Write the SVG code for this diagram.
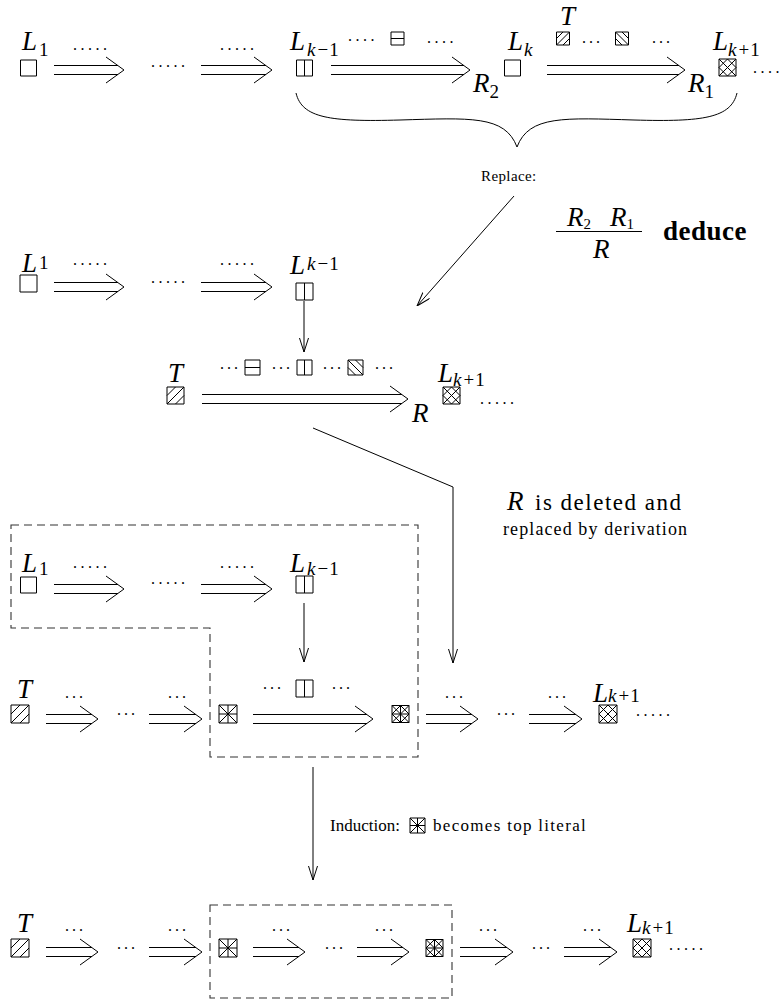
<svg xmlns="http://www.w3.org/2000/svg" xmlns:xlink="http://www.w3.org/1999/xlink" width="782" height="1005" viewBox="0 0 782 1005">
<style>
.ln{stroke:#000;stroke-width:1;fill:none}
.dash{stroke:#333;stroke-width:1.1;fill:none;stroke-dasharray:8 5}
.bx{stroke:#000;stroke-width:1;fill:#fff;vector-effect:non-scaling-stroke}
.hl{stroke:#000;stroke-width:1;fill:none;vector-effect:non-scaling-stroke}
.m{font-family:"Liberation Serif",serif;font-style:italic;font-size:27px;fill:#000}
.sb{font-size:19px}
.up{font-style:normal}
.t{font-family:"Liberation Serif","Times New Roman",serif;fill:#000}
.d{font-family:"Liberation Serif",serif;font-size:16px;letter-spacing:3.5px;fill:#000}
.c{font-family:"Liberation Serif",serif;font-size:16px;letter-spacing:3px;fill:#000}
</style>
<defs>
<symbol id="b-empty" viewBox="0 0 16 16" overflow="visible"><rect class="bx" x="0" y="0" width="16" height="16"/></symbol>
<symbol id="b-vline" viewBox="0 0 16 16" overflow="visible"><rect class="bx" x="0" y="0" width="16" height="16"/><path class="hl" d="M8,0V16"/></symbol>
<symbol id="b-hline" viewBox="0 0 16 16" overflow="visible"><rect class="bx" x="0" y="0" width="16" height="16"/><path class="hl" d="M0,8H16"/></symbol>
<symbol id="b-slash" viewBox="0 0 16 16" overflow="visible"><rect class="bx" x="0" y="0" width="16" height="16"/><path class="hl" d="M0,16L16,0M0,8L8,0M8,16L16,8"/></symbol>
<symbol id="b-bslash" viewBox="0 0 16 16" overflow="visible"><rect class="bx" x="0" y="0" width="16" height="16"/><path class="hl" d="M0,0L16,16M8,0L16,8M0,8L8,16"/></symbol>
<symbol id="b-cross" viewBox="0 0 16 16" overflow="visible"><rect class="bx" x="0" y="0" width="16" height="16"/><path class="hl" d="M0,16L16,0M0,8L8,0M8,16L16,8M0,0L16,16M8,0L16,8M0,8L8,16"/></symbol>
<symbol id="b-star" viewBox="0 0 16 16" overflow="visible"><rect class="bx" x="0" y="0" width="16" height="16"/><path class="hl" d="M0,0L16,16M16,0L0,16M8,0V16M0,8H16"/></symbol>
<symbol id="b-crossplus" viewBox="0 0 16 16" overflow="visible"><rect class="bx" x="0" y="0" width="16" height="16"/><path class="hl" d="M0,16L16,0M0,8L8,0M8,16L16,8M0,0L16,16M8,0L16,8M0,8L8,16M8,0V16M0,8H16"/></symbol>
<marker id="v" viewBox="0 0 14 10" refX="14" refY="5" markerWidth="14" markerHeight="10" markerUnits="userSpaceOnUse" orient="auto"><path d="M0,0.5L14,5L0,9.5" fill="none" stroke="#000" stroke-width="1"/></marker>
</defs>
<rect width="782" height="1005" fill="#fff"/>

<!-- Row 1 -->
<g id="r1-L1"><text class="m" x="22" y="50">L<tspan class="sb up" dx="2" dy="6">1</tspan></text><use href="#b-empty" x="20" y="60" width="17" height="16"/></g>
<g id="r1-Lk-1"><text class="m" x="290" y="50">L<tspan class="sb" dx="2" dy="6">k</tspan><tspan class="sb up" dx="2">−</tspan><tspan class="sb up" dx="1">1</tspan></text><use href="#b-vline" x="296" y="60" width="17" height="16"/></g>
<g id="r1-mid"><text class="d" x="348" y="41">....</text><use href="#b-hline" x="391" y="32" width="13" height="13"/><text class="d" x="427" y="43">....</text></g>
<g id="r1-R2"><text class="m" x="473" y="92">R<tspan class="sb up" dy="6">2</tspan></text></g>
<g id="r1-Lk"><text class="m" x="508" y="50">L<tspan class="sb" dx="1" dy="6">k</tspan></text><use href="#b-empty" x="504" y="60" width="17" height="16"/></g>
<g id="r1-T"><text class="m" x="560" y="25">T</text><use href="#b-slash" x="556" y="32" width="14" height="13"/><text class="c" x="582" y="43">...</text><use href="#b-bslash" x="615" y="32" width="14" height="13"/><text class="c" x="652" y="43">...</text></g>
<g id="r1-R1"><text class="m" x="688" y="92">R<tspan class="sb up" dy="6">1</tspan></text></g>
<g id="r1-Lk+1"><text class="m" x="713" y="50">L<tspan class="sb" dx="0" dy="6">k</tspan><tspan class="sb up" dx="2">+</tspan><tspan class="sb up" dx="1">1</tspan></text><use href="#b-cross" x="719" y="59" width="17" height="17"/><text class="d" x="753" y="73">....</text></g>
<g id="r1-dots"><text class="d" x="73" y="50">.....</text><text class="d" x="151" y="67">.....</text><text class="d" x="220" y="50">.....</text></g>

<!-- Deduce -->
<g id="deduce"><text class="m" x="567" y="226" font-size="21">R<tspan font-size="15" font-style="normal" dy="3">2</tspan></text><text class="m" x="610" y="226" font-size="21">R<tspan font-size="15" font-style="normal" dy="3">1</tspan></text><path class="ln" d="M556,231.5H642"/><text class="m" x="593" y="258" font-size="21">R</text><text class="t" x="663" y="240" font-size="27" font-weight="bold" letter-spacing="0.5">deduce</text></g>
<g id="replace"><text class="t" x="481" y="181" font-size="15" letter-spacing="0.4">Replace:</text></g>

<!-- Row 2 -->
<g id="r2-L1"><text class="m" x="22" y="272">L<tspan class="sb up" dx="2" dy="-3">1</tspan></text><use href="#b-empty" x="20" y="275" width="17" height="17"/></g>
<g id="r2-Lk-1"><text class="m" x="290" y="274">L<tspan class="sb" dx="2" dy="-4">k</tspan><tspan class="sb up" dx="2">−</tspan><tspan class="sb up" dx="1">1</tspan></text><use href="#b-vline" x="296" y="283" width="17" height="17"/></g>
<g id="r2-dots"><text class="d" x="73" y="265">.....</text><text class="d" x="151" y="283">.....</text><text class="d" x="220" y="265">.....</text></g>

<!-- Row 3 -->
<g id="r3-T"><text class="m" x="168" y="382">T</text><use href="#b-slash" x="167" y="387" width="17" height="17"/></g>
<g id="r3-top"><text class="c" x="220" y="369">...</text><use href="#b-hline" x="245" y="360" width="15" height="15"/><text class="c" x="272" y="369">...</text><use href="#b-vline" x="297" y="360" width="15" height="15"/><text class="c" x="323" y="369">...</text><use href="#b-bslash" x="348" y="360" width="15" height="15"/><text class="c" x="375" y="369">...</text></g>
<g id="r3-R"><text class="m" x="412" y="422">R</text></g>
<g id="r3-Lk+1"><text class="m" x="438" y="382">L<tspan class="sb" dy="4">k</tspan><tspan class="sb up" dx="2">+</tspan><tspan class="sb up" dx="1">1</tspan></text><use href="#b-cross" x="443" y="387" width="17" height="17"/><text class="d" x="480" y="404">.....</text></g>

<g id="deleted"><text class="m" x="507" y="510" font-size="23">R</text><text class="t" x="535" y="510" font-size="23" letter-spacing="1.5">is deleted and</text><text class="t" x="503" y="535" font-size="18" letter-spacing="1.1">replaced by derivation</text></g>

<!-- Row 4 -->
<g id="r4-L1"><text class="m" x="22" y="572">L<tspan class="sb up" dx="2" dy="3">1</tspan></text><use href="#b-empty" x="20" y="577" width="17" height="16"/></g>
<g id="r4-Lk-1"><text class="m" x="290" y="572">L<tspan class="sb" dx="2" dy="3">k</tspan><tspan class="sb up" dx="2">−</tspan><tspan class="sb up" dx="1">1</tspan></text><use href="#b-vline" x="296" y="576" width="17" height="17"/></g>
<g id="r4-dots"><text class="d" x="73" y="568">.....</text><text class="d" x="151" y="584">.....</text><text class="d" x="220" y="568">.....</text></g>

<!-- Row 5 -->
<g id="r5-T"><text class="m" x="17" y="698" font-size="26">T</text><use href="#b-slash" x="11" y="705" width="18" height="18"/></g>
<g id="r5-star"><use href="#b-star" x="219" y="705" width="18" height="18"/></g>
<g id="r5-top"><text class="c" x="263" y="689">...</text><use href="#b-vline" x="296" y="680" width="17" height="17"/><text class="c" x="332" y="689">...</text></g>
<g id="r5-cp"><use href="#b-crossplus" x="392" y="705" width="17" height="18"/></g>
<g id="r5-Lk+1"><text class="m" x="593" y="702">L<tspan class="sb" dy="0">k</tspan><tspan class="sb up" dx="2">+</tspan><tspan class="sb up" dx="1">1</tspan></text><use href="#b-cross" x="599" y="705" width="18" height="18"/><text class="d" x="636" y="716">.....</text></g>
<g id="r5-dots"><text class="c" x="65" y="698">...</text><text class="c" x="117" y="715">...</text><text class="c" x="168" y="698">...</text><text class="c" x="445" y="698">...</text><text class="c" x="497" y="715">...</text><text class="c" x="548" y="698">...</text></g>

<g id="induction"><text class="t" x="330" y="831" font-size="17">Induction:</text><use href="#b-star" x="410" y="818" width="15" height="15"/><text class="t" x="433" y="831" font-size="17" letter-spacing="1.3">becomes top literal</text></g>

<!-- Row 6 -->
<g id="r6-T"><text class="m" x="17" y="932" font-size="26">T</text><use href="#b-slash" x="11" y="939" width="18" height="18"/></g>
<g id="r6-star"><use href="#b-star" x="219" y="939" width="18" height="18"/></g>
<g id="r6-cp"><use href="#b-crossplus" x="426" y="939" width="17" height="18"/></g>
<g id="r6-Lk+1"><text class="m" x="627" y="932">L<tspan class="sb" dy="2">k</tspan><tspan class="sb up" dx="2">+</tspan><tspan class="sb up" dx="1">1</tspan></text><use href="#b-cross" x="633" y="939" width="18" height="18"/><text class="d" x="669" y="950">.....</text></g>
<g id="r6-dots"><text class="c" x="65" y="931">...</text><text class="c" x="117" y="949">...</text><text class="c" x="168" y="931">...</text><text class="c" x="272" y="931">...</text><text class="c" x="325" y="949">...</text><text class="c" x="375" y="931">...</text><text class="c" x="479" y="931">...</text><text class="c" x="532" y="949">...</text><text class="c" x="583" y="931">...</text></g>

<!-- Connectors -->
<g id="connectors">
<path class="ln" d="M54,65.5H118M54,74.5H118M106,57L124,70L106,83"/>
<path class="ln" d="M201,65.5H266M201,74.5H266M254,57L272,70L254,83"/>
<path class="ln" d="M331,65.5H464M331,74.5H464M452,57L470,70L452,83"/>
<path class="ln" d="M547,65.5H679M547,74.5H679M667,57L685,70L667,83"/>
<path class="ln" d="M296,93C302,118 330,122 400,120C470,118 505,115 517,147"/>
<path class="ln" d="M737,93C731,118 703,122 634,120C565,118 529,115 517,147"/>
<path class="ln" d="M514,196L417,306" marker-end="url(#v)"/>
<path class="ln" d="M54,282.5H118M54,291.5H118M106,274L124,287L106,300"/>
<path class="ln" d="M201,282.5H266M201,291.5H266M254,274L272,287L254,300"/>
<path class="ln" d="M304,301V352" marker-end="url(#v)"/>
<path class="ln" d="M202,394.5H402M202,403.5H402M390,386L408,399L390,412"/>
<path class="ln" d="M313,428L453,487V663" marker-end="url(#v)"/>
<path class="ln" d="M54,584.5H118M54,593.5H118M106,576L124,589L106,602"/>
<path class="ln" d="M201,584.5H266M201,593.5H266M254,576L272,589L254,602"/>
<path class="ln" d="M304,603V662" marker-end="url(#v)"/>
<path class="ln" d="M46,714.5H92M46,723.5H92M80,706L98,719L80,732"/>
<path class="ln" d="M149,714.5H196M149,723.5H196M184,706L202,719L184,732"/>
<path class="ln" d="M253,714.5H367M253,723.5H367M355,706L373,719L355,732"/>
<path class="ln" d="M426,714.5H472M426,723.5H472M460,706L478,719L460,732"/>
<path class="ln" d="M529,714.5H576M529,723.5H576M564,706L582,719L564,732"/>
<path class="ln" d="M313,767V880" marker-end="url(#v)"/>
<path class="ln" d="M46,947.5H92M46,956.5H92M80,939L98,952L80,965"/>
<path class="ln" d="M149,947.5H196M149,956.5H196M184,939L202,952L184,965"/>
<path class="ln" d="M253,947.5H299M253,956.5H299M287,939L305,952L287,965"/>
<path class="ln" d="M357,947.5H403M357,956.5H403M391,939L409,952L391,965"/>
<path class="ln" d="M460,947.5H507M460,956.5H507M495,939L513,952L495,965"/>
<path class="ln" d="M564,947.5H611M564,956.5H611M599,939L617,952L599,965"/>
</g>
<g id="regions">
<path class="dash" d="M11,525H418V757H210V628H11Z"/>
<rect class="dash" x="210" y="905" width="242" height="93"/>
</g>
</svg>
